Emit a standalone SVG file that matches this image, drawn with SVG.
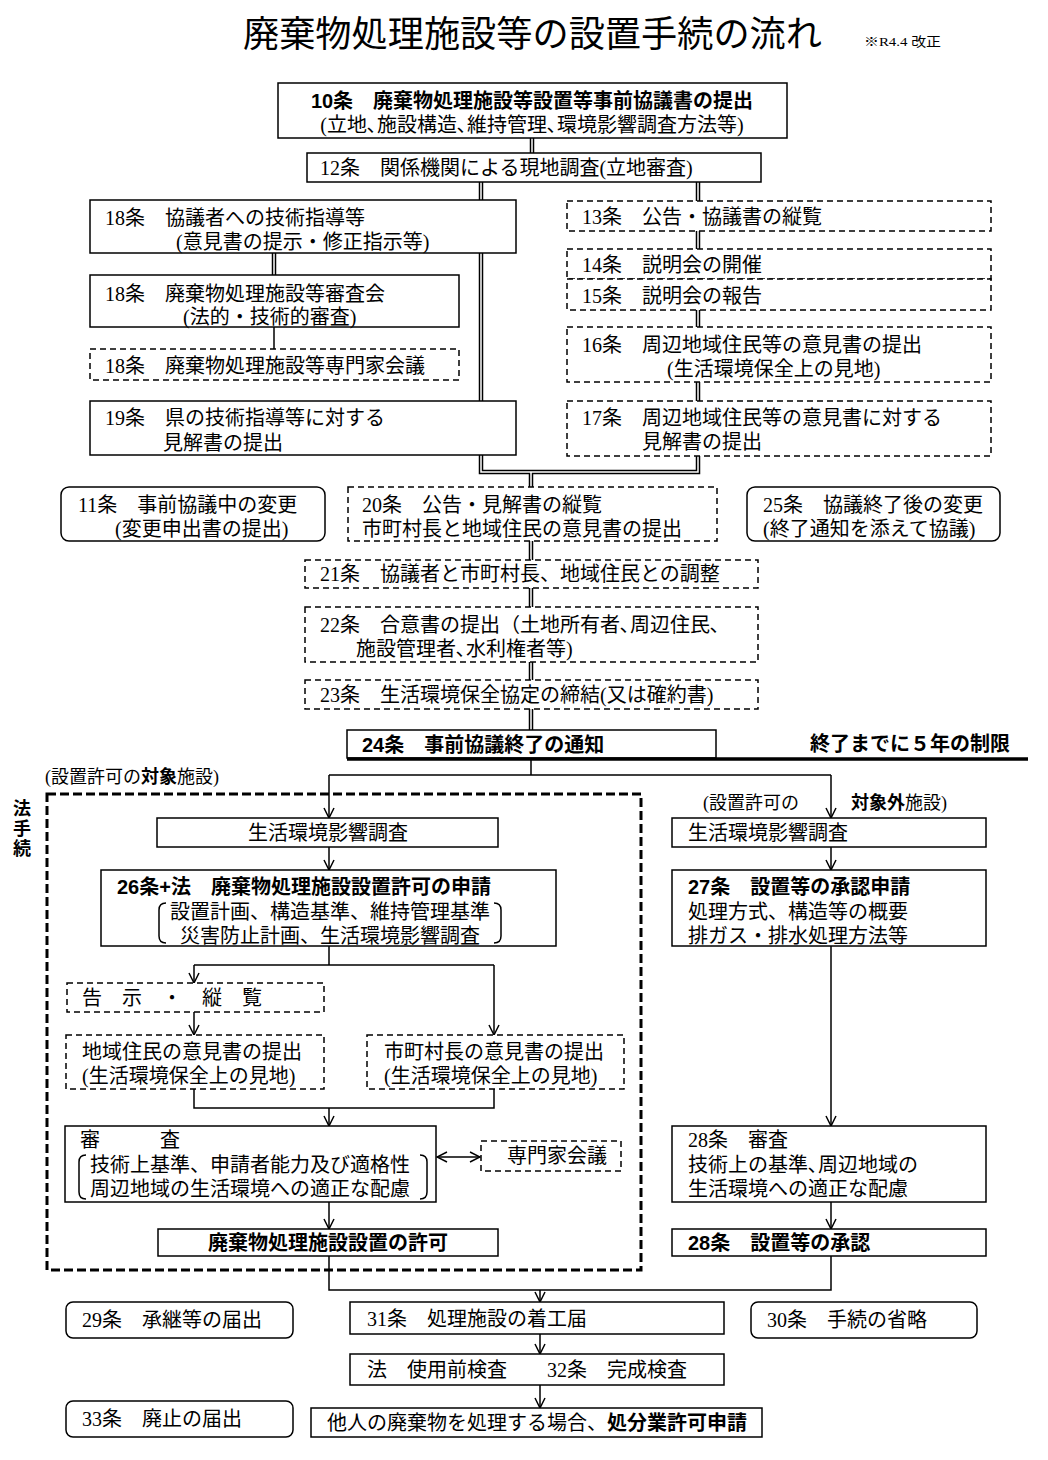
<svg xmlns="http://www.w3.org/2000/svg" width="1048" height="1460" viewBox="0 0 1048 1460">
<defs>
<style>
.b{fill:#fff;stroke:#000;stroke-width:1.5}
.d{fill:#fff;stroke:#000;stroke-width:1.5;stroke-dasharray:6 4}
.t{font-family:"Liberation Serif","Noto Sans CJK JP",serif;font-size:20px;fill:#000}
.g{font-family:"Liberation Sans","Noto Sans CJK JP",sans-serif;font-size:20px;font-weight:bold;fill:#000}
.bo{font-family:"Liberation Sans","Noto Sans CJK JP",sans-serif;font-weight:bold}
.c{text-anchor:middle}
.l{fill:none;stroke:#000;stroke-width:1.5}
.k{fill:none;stroke:#000;stroke-width:4.5}
.w{fill:none;stroke:#fff;stroke-width:1.5}
.a{fill:none;stroke:#000;stroke-width:1.5;marker-end:url(#ar)}
</style>
<marker id="ar" viewBox="0 0 12 12" refX="11" refY="6" markerWidth="12" markerHeight="12" markerUnits="userSpaceOnUse" orient="auto-start-reverse">
<path d="M1,1 L11,6 L1,11" fill="none" stroke="#000" stroke-width="1.5"/>
</marker>
</defs>
<rect width="1048" height="1460" fill="#fff"/>

<g id="title">
<text x="243" y="47" font-family="Liberation Serif,'Noto Sans CJK JP',serif" font-size="36" textLength="579" lengthAdjust="spacingAndGlyphs">廃棄物処理施設等の設置手続の流れ</text>
<text x="864" y="46" class="t" style="font-size:13px" textLength="77" lengthAdjust="spacingAndGlyphs">※R4.4 改正</text>
</g>

<g id="connectors">
<path class="k" d="M532,138V153"/>
<path class="k" d="M481,182V472H698V182M531,472V487"/>
<path class="k" d="M274,253V275"/>
<path class="k" d="M531,541V560M531,588V607M531,662V680M531,709V730"/>
<path class="w" d="M532,138V153"/>
<path class="w" d="M481,182V472H698V182M531,472V487"/>
<path class="w" d="M274,253V275"/>
<path class="w" d="M531,541V560M531,588V607M531,662V680M531,709V730"/>
<path class="l" d="M274,327V349"/>
<path class="l" d="M531,759V775M329,775H831"/>
<path class="a" d="M329,775V818"/>
<path class="a" d="M831,775V818"/>
<path class="a" d="M329,847V870"/>
<path class="l" d="M329,946V965M194,965H494"/>
<path class="a" d="M194,965V983"/>
<path class="a" d="M494,965V1035"/>
<path class="a" d="M194,1012V1035"/>
<path class="l" d="M194,1089V1108H494V1089"/>
<path class="a" d="M329,1108V1126"/>
<path class="a" d="M329,1202V1229"/>
<path class="l" d="M437,1157H480" style="marker-start:url(#ar);marker-end:url(#ar)"/>
<path class="a" d="M831,847V870"/>
<path class="a" d="M831,946V1126"/>
<path class="a" d="M831,1202V1229"/>
<path class="l" d="M329,1256V1290H831V1256"/>
<path class="a" d="M540,1290V1302"/>
<path class="a" d="M540,1334V1354"/>
<path class="a" d="M540,1385V1408"/>
</g>

<g id="n10">
<rect class="b" x="278" y="83" width="509" height="55"/>
<text class="g c" x="532" y="108">10条　廃棄物処理施設等設置等事前協議書の提出</text>
<text class="t c" x="532" y="132">(立地､施設構造､維持管理､環境影響調査方法等)</text>
</g>
<g id="n12">
<rect class="b" x="307" y="153" width="454" height="29"/>
<text class="t" x="320" y="175">12条　関係機関による現地調査(立地審査)</text>
</g>

<g id="n18a">
<rect class="b" x="90" y="200" width="426" height="53"/>
<text class="t" x="105" y="225">18条　協議者への技術指導等</text>
<text class="t" x="176" y="249">(意見書の提示・修正指示等)</text>
</g>
<g id="n18b">
<rect class="b" x="90" y="275" width="369" height="52"/>
<text class="t" x="105" y="301">18条　廃棄物処理施設等審査会</text>
<text class="t" x="183" y="324">(法的・技術的審査)</text>
</g>
<g id="n18c">
<rect class="d" x="90" y="349" width="369" height="31"/>
<text class="t" x="105" y="373">18条　廃棄物処理施設等専門家会議</text>
</g>
<g id="n19">
<rect class="b" x="90" y="401" width="426" height="54"/>
<text class="t" x="105" y="425">19条　県の技術指導等に対する</text>
<text class="t" x="163" y="450">見解書の提出</text>
</g>

<g id="n13">
<rect class="d" x="567" y="201" width="424" height="30"/>
<text class="t" x="582" y="224">13条　公告・協議書の縦覧</text>
</g>
<g id="n14">
<rect class="d" x="567" y="249" width="424" height="30"/>
<text class="t" x="582" y="272">14条　説明会の開催</text>
</g>
<g id="n15">
<rect class="d" x="567" y="279" width="424" height="31"/>
<text class="t" x="582" y="303">15条　説明会の報告</text>
</g>
<g id="n16">
<rect class="d" x="567" y="327" width="424" height="55"/>
<text class="t" x="582" y="352">16条　周辺地域住民等の意見書の提出</text>
<text class="t" x="667" y="376">(生活環境保全上の見地)</text>
</g>
<g id="n17">
<rect class="d" x="567" y="401" width="424" height="55"/>
<text class="t" x="582" y="425">17条　周辺地域住民等の意見書に対する</text>
<text class="t" x="642" y="449">見解書の提出</text>
</g>

<g id="n11">
<rect class="b" x="61" y="487" width="264" height="54" rx="8"/>
<text class="t" x="78" y="512">11条　事前協議中の変更</text>
<text class="t" x="115" y="536">(変更申出書の提出)</text>
</g>
<g id="n20">
<rect class="d" x="348" y="487" width="369" height="54"/>
<text class="t" x="362" y="512">20条　公告・見解書の縦覧</text>
<text class="t" x="362" y="536">市町村長と地域住民の意見書の提出</text>
</g>
<g id="n25">
<rect class="b" x="747" y="487" width="253" height="54" rx="8"/>
<text class="t" x="763" y="512">25条　協議終了後の変更</text>
<text class="t" x="763" y="536">(終了通知を添えて協議)</text>
</g>
<g id="n21">
<rect class="d" x="305" y="560" width="453" height="28"/>
<text class="t" x="320" y="581">21条　協議者と市町村長、地域住民との調整</text>
</g>
<g id="n22">
<rect class="d" x="305" y="607" width="453" height="55"/>
<text class="t" x="320" y="632">22条　合意書の提出（土地所有者､周辺住民､</text>
<text class="t" x="356" y="656">施設管理者､水利権者等)</text>
</g>
<g id="n23">
<rect class="d" x="305" y="680" width="453" height="29"/>
<text class="t" x="320" y="702">23条　生活環境保全協定の締結(又は確約書)</text>
</g>
<g id="n24">
<rect class="b" x="347" y="730" width="369" height="28"/>
<path d="M347,759H1028" stroke="#000" stroke-width="3.5" fill="none"/>
<text class="g" x="362" y="752">24条　事前協議終了の通知</text>
<text class="g" x="810" y="751">終了までに５年の制限</text>
</g>

<g id="frame">
<rect x="47" y="794" width="594" height="476" fill="none" stroke="#000" stroke-width="3" stroke-dasharray="9 4"/>
<text class="t" x="45" y="783" style="font-size:18px">(設置許可の<tspan class="bo">対象</tspan>施設)</text>
<text class="g c" x="22" y="815" style="font-size:18px">法</text>
<text class="g c" x="22" y="835" style="font-size:18px">手</text>
<text class="g c" x="22" y="855" style="font-size:18px">続</text>
</g>
<text class="t" x="703" y="809" style="font-size:18px">(設置許可の</text>
<text class="t" x="851" y="809" style="font-size:18px"><tspan class="bo">対象外</tspan>施設)</text>

<g id="nL1">
<rect class="b" x="157" y="818" width="341" height="29"/>
<text class="t c" x="328" y="840">生活環境影響調査</text>
</g>
<g id="n26">
<rect class="b" x="101" y="870" width="455" height="76"/>
<text class="g" x="117" y="894">26条+法　廃棄物処理施設設置許可の申請</text>
<text class="t" x="170" y="919">設置計画、構造基準、維持管理基準</text>
<text class="t" x="180" y="943">災害防止計画、生活環境影響調査</text>
<path class="l" d="M166,903Q159,903 159,910V936Q159,943 166,943M494,903Q501,903 501,910V936Q501,943 494,943"/>
</g>
<g id="nkoku">
<rect class="d" x="67" y="983" width="257" height="29"/>
<text class="t" x="82" y="1005">告　示　・　縦　覧</text>
</g>
<g id="nchiiki">
<rect class="d" x="66" y="1035" width="258" height="54"/>
<text class="t" x="82" y="1059">地域住民の意見書の提出</text>
<text class="t" x="82" y="1083">(生活環境保全上の見地)</text>
</g>
<g id="nshicho">
<rect class="d" x="367" y="1035" width="257" height="54"/>
<text class="t" x="384" y="1059">市町村長の意見書の提出</text>
<text class="t" x="384" y="1083">(生活環境保全上の見地)</text>
</g>
<g id="nshinsa">
<rect class="b" x="65" y="1126" width="371" height="76"/>
<text class="t" x="80" y="1147">審　　　査</text>
<text class="t" x="90" y="1172">技術上基準、申請者能力及び適格性</text>
<text class="t" x="90" y="1196">周辺地域の生活環境への適正な配慮</text>
<path class="l" d="M86,1155Q79,1155 79,1162V1192Q79,1199 86,1199M420,1155Q427,1155 427,1162V1192Q427,1199 420,1199"/>
</g>
<g id="nsenmon">
<rect class="d" x="481" y="1141" width="140" height="30"/>
<text class="t" x="507" y="1163">専門家会議</text>
</g>
<g id="nkyoka">
<rect class="b" x="158" y="1229" width="340" height="27"/>
<text class="g c" x="328" y="1250">廃棄物処理施設設置の許可</text>
</g>

<g id="nR1">
<rect class="b" x="672" y="818" width="314" height="29"/>
<text class="t" x="688" y="840">生活環境影響調査</text>
</g>
<g id="n27">
<rect class="b" x="672" y="870" width="314" height="76"/>
<text class="g" x="688" y="894">27条　設置等の承認申請</text>
<text class="t" x="688" y="919">処理方式、構造等の概要</text>
<text class="t" x="688" y="943">排ガス・排水処理方法等</text>
</g>
<g id="n28a">
<rect class="b" x="672" y="1126" width="314" height="76"/>
<text class="t" x="688" y="1147">28条　審査</text>
<text class="t" x="688" y="1172">技術上の基準､周辺地域の</text>
<text class="t" x="688" y="1196">生活環境への適正な配慮</text>
</g>
<g id="n28b">
<rect class="b" x="672" y="1229" width="314" height="27"/>
<text class="g" x="688" y="1250">28条　設置等の承認</text>
</g>

<g id="n29">
<rect class="b" x="66" y="1302" width="227" height="36" rx="7"/>
<text class="t" x="82" y="1327">29条　承継等の届出</text>
</g>
<g id="n31">
<rect class="b" x="350" y="1302" width="374" height="32"/>
<text class="t" x="367" y="1326">31条　処理施設の着工届</text>
</g>
<g id="n30">
<rect class="b" x="751" y="1302" width="226" height="36" rx="7"/>
<text class="t" x="767" y="1327">30条　手続の省略</text>
</g>
<g id="n32">
<rect class="b" x="350" y="1354" width="374" height="31"/>
<text class="t" x="367" y="1377">法　使用前検査　　32条　完成検査</text>
</g>
<g id="n33">
<rect class="b" x="66" y="1401" width="227" height="36" rx="7"/>
<text class="t" x="82" y="1426">33条　廃止の届出</text>
</g>
<g id="nshobun">
<rect class="b" x="311" y="1408" width="451" height="29"/>
<text class="t" x="327" y="1430">他人の廃棄物を処理する場合、<tspan class="bo">処分業許可申請</tspan></text>
</g>
</svg>
